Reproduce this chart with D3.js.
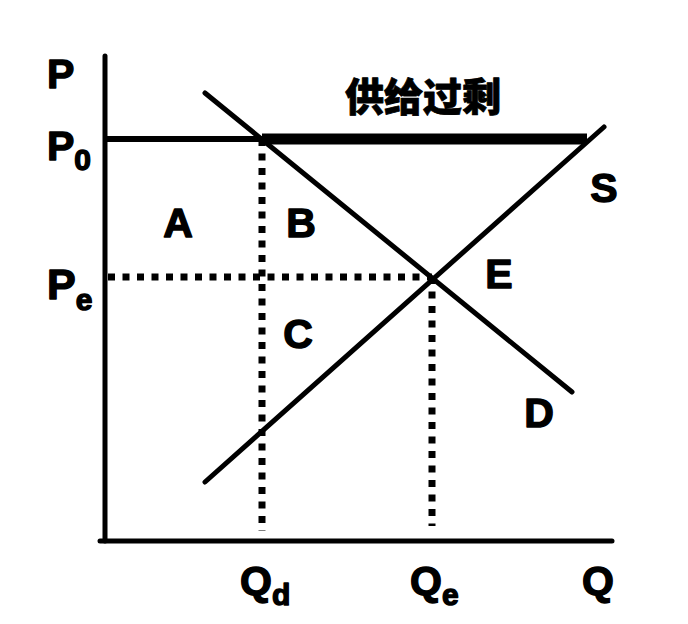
<!DOCTYPE html>
<html>
<head>
<meta charset="utf-8">
<script src="https://cdn.jsdelivr.net/npm/d3@7"></script>
<style>
  html, body { margin: 0; padding: 0; background: #fff; }
  svg { display: block; }
  text { font-family: "Liberation Sans", Arial, sans-serif; font-weight: bold; fill: #000;
         stroke: #000; stroke-width: 1.4; stroke-linejoin: round; }
  .cjk { font-family: "Noto Sans CJK SC", sans-serif; font-weight: 900; stroke-width: 0.8; }
</style>
</head>
<body>
<div id="chart"></div>
<script>
// ---- data (chart units 0..100) ----
const quantities = { Qd: 31.4, Qe: 65.4 };
const prices = { P0: 80.4, Pe: 52.8 };
const demandCurve = [[20, 89.6], [93.4, 29.8]];
const supplyCurve = [[20, 11.8], [99.8, 82.8]];
const surplusEnd = 96.4;          // where the P0 line meets S
const axisExtent = { xMin: -1, xMax: 101.4, yMax: 97 };
const curveLabels = [
  { t: "A", q: 14.6, p: 60.8 }, { t: "B", q: 39.2, p: 60.8 },
  { t: "C", q: 38.6, p: 38.6 }, { t: "E", q: 78.8, p: 50.6 },
  { t: "D", q: 86.8, p: 22.8 }, { t: "S", q: 99.8, p: 67.8 }
];
const surplusText = "供给过剩";

const W = 688, H = 624;
const x = d3.scaleLinear().domain([0, 100]).range([105, 605]);
const y = d3.scaleLinear().domain([0, 100]).range([541, 41]);

const svg = d3.select("#chart").append("svg").attr("width", W).attr("height", H);

function seg(x1, y1, x2, y2, w, dash, cap) {
  const l = svg.append("line")
    .attr("x1", x(x1)).attr("y1", y(y1)).attr("x2", x(x2)).attr("y2", y(y2))
    .attr("stroke", "#000").attr("stroke-width", w)
    .attr("stroke-linecap", cap || "butt");
  if (dash) l.attr("stroke-dasharray", dash);
  return l;
}

// dotted guides
seg(0.6, prices.Pe, quantities.Qe, prices.Pe, 7, "7 7.5");
seg(quantities.Qd, prices.P0, quantities.Qd, 2, 7, "7 7.5");
seg(quantities.Qe, prices.Pe, quantities.Qe, 3, 7, "7 7.5");

// P0 line: thin part then thick surplus part
seg(0, prices.P0, quantities.Qd, prices.P0, 6);
seg(quantities.Qd, prices.P0, surplusEnd, prices.P0, 11);

// curves
seg(demandCurve[0][0], demandCurve[0][1], demandCurve[1][0], demandCurve[1][1], 5, null, "round");
seg(supplyCurve[0][0], supplyCurve[0][1], supplyCurve[1][0], supplyCurve[1][1], 5, null, "round");

// axes
seg(0, 0, 0, axisExtent.yMax, 5, null, "round");
seg(axisExtent.xMin, 0, axisExtent.xMax, 0, 5, null, "round");

// axis labels with subscripts
function sub(px, py, main, subT, size, subSize, dy) {
  const t = svg.append("text").attr("x", px).attr("y", py).attr("font-size", size);
  t.append("tspan").text(main);
  if (subT) t.append("tspan").attr("font-size", subSize).attr("dx", 0).attr("dy", dy).text(subT);
}
sub(47, 88, "P", null, 41);
sub(47, 160, "P", "0", 41, 30, 10);
sub(47, 299, "P", "e", 43, 30, 11);
sub(x(quantities.Qd) - 22, 595, "Q", "d", 41, 30, 10);
sub(x(quantities.Qe) - 22, 595, "Q", "e", 41, 30, 10);
sub(582, 595, "Q", null, 41);

// region / curve labels
svg.selectAll("text.lab").data(curveLabels).enter().append("text")
  .attr("class", "lab")
  .attr("x", d => x(d.q)).attr("y", d => y(d.p))
  .attr("text-anchor", "middle").attr("font-size", 41)
  .text(d => d.t);

svg.append("text").attr("class", "cjk")
  .attr("x", 345).attr("y", 111).attr("font-size", 39)
  .text(surplusText);
</script>
</body>
</html>
